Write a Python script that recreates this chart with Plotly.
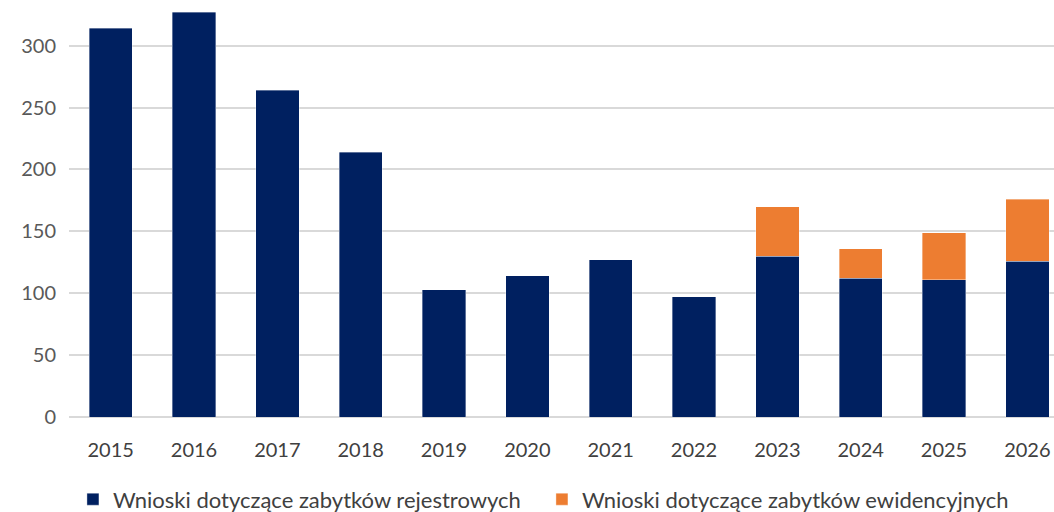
import plotly.graph_objects as go

years = ["2015", "2016", "2017", "2018", "2019", "2020", "2021", "2022", "2023", "2024", "2025", "2026"]
rejestrowe = [314, 327, 264, 214, 103, 114, 127, 97, 130, 112, 111, 126]
ewidencyjne = [None, None, None, None, None, None, None, None, 40, 24, 38, 50]
name_rej = "Wnioski dotyczące zabytków rejestrowych"
name_ewi = "Wnioski dotyczące zabytków ewidencyjnych"
y_ticks = [0, 50, 100, 150, 200, 250, 300]

FONT = "Lato"
fig = go.Figure()
fig.add_bar(x=years, y=rejestrowe, name=name_rej, marker=dict(color="#002060", line=dict(color="rgba(255,255,255,0.45)", width=0.8)))
fig.add_bar(x=years, y=ewidencyjne, name=name_ewi, marker=dict(color="#ED7D31", line=dict(color="rgba(255,255,255,0.45)", width=0.8)))

fig.update_layout(
    barmode="stack",
    bargap=0.48,
    width=1054, height=512,
    margin=dict(l=69, r=0, t=5, b=95, autoexpand=False),
    plot_bgcolor="white", paper_bgcolor="white",
    font=dict(family=FONT, size=20, color="#595959"),
    showlegend=True,
    legend=dict(orientation="h", x=0.004, xanchor="left", y=-0.2, yanchor="middle",
                font=dict(size=22, color="#404040"), traceorder="normal", itemwidth=30,
                entrywidth=424, entrywidthmode="pixels", tracegroupgap=0),
    xaxis=dict(range=[-0.5, 11.32], showgrid=False, ticks="", showline=False, automargin=False,
               tickfont=dict(size=20, color="#404040"), ticklabelstandoff=19),
    yaxis=dict(range=[0, 332.9], tickvals=y_ticks, showgrid=True, gridcolor="#D9D9D9", gridwidth=1.5,
               zeroline=True, zerolinecolor="#D9D9D9", zerolinewidth=1.5, ticks="", automargin=False,
               tickfont=dict(size=20, color="#595959"), ticklabelstandoff=12),
)
fig.write_html("out.html", config={"displayModeBar": False},
               post_script="document.body.style.margin='0';document.body.style.overflow='hidden';")
